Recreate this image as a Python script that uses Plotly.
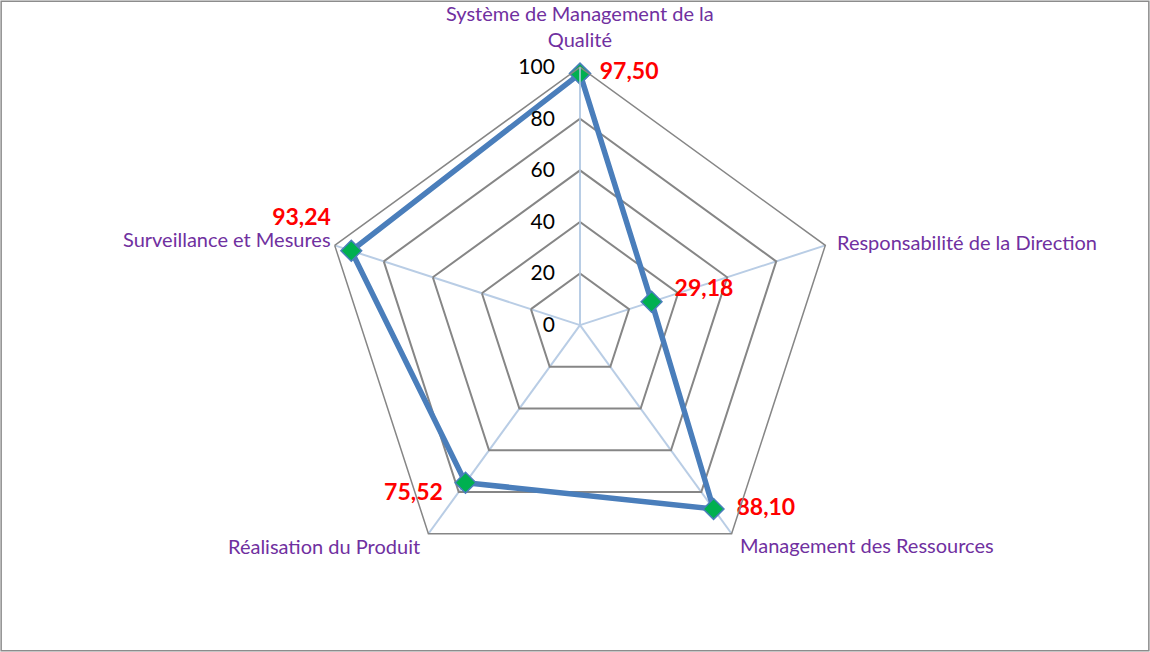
import math
import plotly.graph_objects as go

CATEGORIES = [
    "Système de Management de la Qualité",
    "Responsabilité de la Direction",
    "Management des Ressources",
    "Réalisation du Produit",
    "Surveillance et Mesures",
]
CATEGORY_TEXT = [
    "Système de Management de la<br>Qualité",
    "Responsabilité de la Direction",
    "Management des Ressources",
    "Réalisation du Produit",
    "Surveillance et Mesures",
]
SCORES = [97.50, 29.18, 88.10, 75.52, 93.24]
LABELS = ["97,50", "29,18", "88,10", "75,52", "93,24"]
RADIAL_TICKS = [0, 20, 40, 60, 80, 100]

# label placement (style only)
LABEL_POS = ["middle right", "top right", "middle right", "bottom left", "top left"]
LABEL_PAD = [30, 0, 35, 0, 31]          # invisible marker size that pushes the text away
LABEL_PREFIX = ["", "\u2002\u2002", "", "", ""]
LABEL_SUFFIX = ["", "", "", "\u2002\u00a0\u00a0", ""]
CAT_ANCHOR = [  # xanchor, yanchor, xshift, yshift
    ("center", "bottom", 0, 14),
    ("left", "middle", 10, 3),
    ("left", "middle", 6, -11),
    ("right", "middle", -6, -12),
    ("right", "middle", -2, 6),
]

LINE = "#4A7EBB"
MARKER = "#00B050"
GRID = "#868686"
SPOKE = "#B9CDE5"
PURPLE = "#7030A0"
FONT = "Lato, Open Sans, sans-serif"

DOMAIN_X = [0.2800, 0.7287]
DOMAIN_Y = [0.1058, 0.8970]

theta = CATEGORIES + CATEGORIES[:1]
r = SCORES + SCORES[:1]

fig = go.Figure()
fig.add_trace(go.Scatterpolar(
    r=r,
    theta=theta,
    mode="lines+markers",
    line=dict(color=LINE, width=5.5),
    marker=dict(symbol="diamond", size=16, color=MARKER, line=dict(color=LINE, width=1.5)),
    cliponaxis=False,
    showlegend=False,
))
# value labels
fig.add_trace(go.Scatterpolar(
    r=SCORES,
    theta=CATEGORIES,
    mode="markers+text",
    marker=dict(size=LABEL_PAD, opacity=0),
    text=[p + t + s for p, t, s in zip(LABEL_PREFIX, LABELS, LABEL_SUFFIX)],
    textposition=LABEL_POS,
    textfont=dict(color="#FF0000", size=23, family=FONT, weight="bold"),
    cliponaxis=False,
    hoverinfo="skip",
    showlegend=False,
))

# category labels placed just outside each outer vertex
cx = sum(DOMAIN_X) / 2
cy = sum(DOMAIN_Y) / 2
rx = (DOMAIN_X[1] - DOMAIN_X[0]) / 2
ry = (DOMAIN_Y[1] - DOMAIN_Y[0]) / 2
annotations = []
for i, txt in enumerate(CATEGORY_TEXT):
    ang = math.radians(90 - 360 / len(CATEGORY_TEXT) * i)
    xa, ya, xs, ys = CAT_ANCHOR[i]
    annotations.append(dict(
        x=cx + rx * math.cos(ang), y=cy + ry * math.sin(ang),
        xref="paper", yref="paper", text=txt, showarrow=False,
        xanchor=xa, yanchor=ya, xshift=xs, yshift=ys,
        font=dict(size=20, color=PURPLE, family=FONT),
    ))

fig.update_layout(
    width=1150,
    height=652,
    margin=dict(t=0, b=0, l=0, r=0),
    paper_bgcolor="white",
    font=dict(family=FONT),
    annotations=annotations,
    polar=dict(
        domain=dict(x=DOMAIN_X, y=DOMAIN_Y),
        bgcolor="white",
        gridshape="linear",
        radialaxis=dict(
            range=[0, 100],
            tickvals=RADIAL_TICKS,
            angle=90,
            tickangle=90,
            side="counterclockwise",
            showline=True,
            linecolor=SPOKE,
            linewidth=1.5,
            gridcolor=GRID,
            gridwidth=1.5,
            ticks="outside",
            ticklen=17,
            tickcolor="rgba(0,0,0,0)",
            tickfont=dict(size=21, color="black", family=FONT),
        ),
        angularaxis=dict(
            rotation=90,
            direction="clockwise",
            showline=True,
            linecolor=GRID,
            linewidth=1.5,
            gridcolor=SPOKE,
            gridwidth=1.5,
            ticks="",
            showticklabels=False,
        ),
    ),
    shapes=[dict(
        type="rect", xref="paper", yref="paper",
        x0=0.001, x1=0.999, y0=0.002, y1=0.998,
        line=dict(color="#8C8C8C", width=1.5),
    )],
)

fig.write_html(
    "out.html",
    config={"displayModeBar": False},
    post_script="document.body.style.margin='0';",
)
